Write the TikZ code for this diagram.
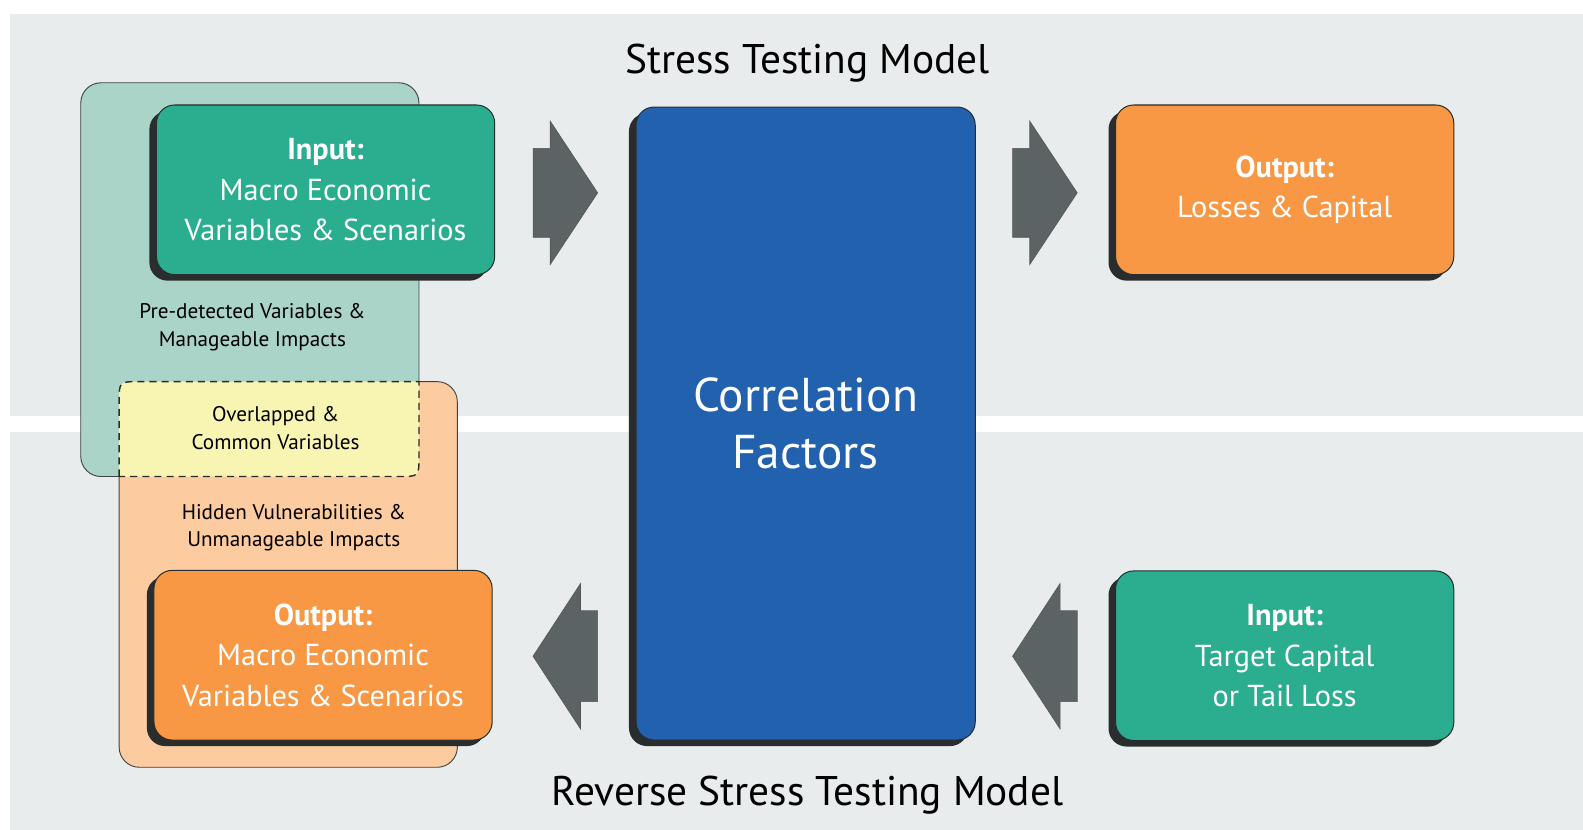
\documentclass[tikz,border=0pt]{standalone}
\usepackage{fontspec}
\setmainfont{PT Sans}
\usetikzlibrary{shadows}
\definecolor{bgpanel}{HTML}{E9ECED}
\definecolor{tealbg}{HTML}{A9D4C7}
\definecolor{peachbg}{HTML}{FCCB9F}
\definecolor{yellowbg}{HTML}{F8F4B1}
\definecolor{greenbox}{HTML}{2BAE8F}
\definecolor{orangebox}{HTML}{F89844}
\definecolor{bluebox}{HTML}{2161AE}
\definecolor{arrowgray}{HTML}{5C6364}
\definecolor{edge}{HTML}{2A2D2D}
\begin{document}
\begin{tikzpicture}[x=1pt,y=-1pt,
  box/.style={rounded corners=18pt, draw=edge, line width=1pt, text=white, align=center,
    minimum width=335pt, minimum height=168pt, inner sep=0pt,
    font=\fontsize{30}{40}\selectfont,
    drop shadow={shadow xshift=-7pt, shadow yshift=-6pt, opacity=1, fill=edge}},
  lbl/.style={align=center, text=black, font=\fontsize{21}{27}\selectfont, inner sep=0pt},
  titletext/.style={text=black, font=\fontsize{41}{44}\selectfont, inner sep=0pt},
  blockarrow/.style={fill=arrowgray, draw=edge!80, line width=0.6pt},
  region/.style={draw=edge!90, line width=0.9pt}]
\useasboundingbox (0,0) rectangle (1568,822);
\fill[white] (0,0) rectangle (1568,822);
\fill[bgpanel] (10,14) rectangle (1568,412);
\fill[bgpanel] (10,428) rectangle (1568,822);
% regions
\fill[tealbg, rounded corners=20pt] (80,82) rectangle (415,472);
\fill[peachbg, rounded corners=20pt] (118,378) rectangle (453,760);
\fill[yellowbg] (118,472) -- (118,398) .. controls (118,378) .. (138,378) -- (415,378)
  -- (415,452) .. controls (415,472) .. (395,472) -- cycle;
\draw[region, rounded corners=20pt] (118,472) -- (80,472) -- (80,82) -- (415,82) -- (415,378);
\draw[region, rounded corners=20pt] (415,378) -- (453,378) -- (453,760) -- (118,760) -- (118,472);
\draw[draw=edge, line width=1.4pt, dash pattern=on 7pt off 5pt] (118,472) -- (118,398) .. controls (118,378) .. (138,378) -- (415,378)
  -- (415,452) .. controls (415,472) .. (395,472) -- cycle;
% labels
\node[lbl] (pre) at (250,324) {Pre-detected Variables \&\\Manageable Impacts};
\node[lbl] (ovl) at (273,424) {Overlapped \&\\Common Variables};
\node[lbl] (hid) at (291,523) {Hidden Vulnerabilities \&\\Unmanageable Impacts};
% titles
\node[titletext] (t1) at (800,63) {Stress Testing Model};
\node[titletext] (t2) at (800,788) {Reverse Stress Testing Model};
% boxes
\node[box, fill=greenbox] (inL) at (322.5,188) {\textbf{Input:}\\Macro Economic\\Variables \& Scenarios};
\node[box, fill=orangebox] (outL) at (320,649) {\textbf{Output:}\\Macro Economic\\Variables \& Scenarios};
\node[box, fill=orangebox] (outR) at (1272.5,188) {\textbf{Output:}\\Losses \& Capital};
\node[box, fill=greenbox] (inR) at (1272.5,649.5) {\textbf{Input:}\\Target Capital\\or Tail Loss};
\node[box, fill=bluebox, minimum width=336pt, minimum height=627pt, font=\fontsize{47}{57}\selectfont] (cf) at (798,419.5) {Correlation\\Factors};
% block arrows
\foreach \x in {528,1003}{
  \draw[blockarrow] (\x,147) -- (\x+17,147) -- (\x+17,120) -- (\x+64,191) -- (\x+17,262) -- (\x+17,235) -- (\x,235) -- cycle;
  \draw[blockarrow] (\x,650) -- (\x+47,578) -- (\x+47,605) -- (\x+64,605) -- (\x+64,695) -- (\x+47,695) -- (\x+47,722) -- cycle;
}
\end{tikzpicture}
\end{document}
